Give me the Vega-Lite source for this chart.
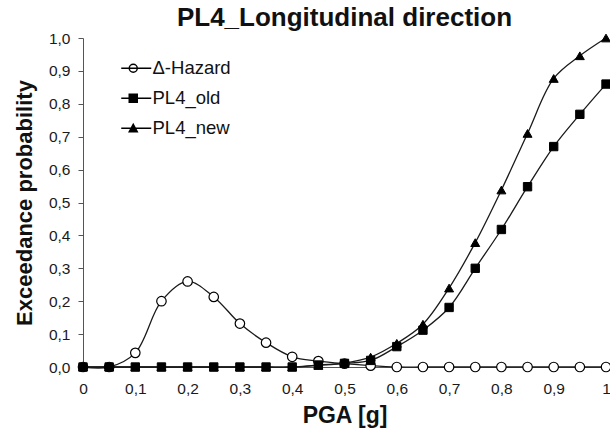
{
  "$schema": "https://vega.github.io/schema/vega-lite/v6.json",
  "width": 523,
  "height": 329,
  "autosize": {"type": "none"},
  "padding": {"left": 83, "top": 38, "right": 4, "bottom": 64},
  "background": "white",
  "title": {
    "text": "PL4_Longitudinal direction",
    "font": "Liberation Sans",
    "fontSize": 26,
    "fontWeight": "bold",
    "color": "#111111",
    "frame": "group",
    "anchor": "middle",
    "baseline": "alphabetic",
    "offset": 4,
    "dy": 25
  },
  "data": {
    "values": [
      {"series": "Δ-Hazard", "x": 0.0, "y": 0.0},
      {"series": "Δ-Hazard", "x": 0.05, "y": 0.0},
      {"series": "Δ-Hazard", "x": 0.1, "y": 0.043},
      {"series": "Δ-Hazard", "x": 0.15, "y": 0.2},
      {"series": "Δ-Hazard", "x": 0.2, "y": 0.26},
      {"series": "Δ-Hazard", "x": 0.25, "y": 0.213},
      {"series": "Δ-Hazard", "x": 0.3, "y": 0.132},
      {"series": "Δ-Hazard", "x": 0.35, "y": 0.074},
      {"series": "Δ-Hazard", "x": 0.4, "y": 0.031},
      {"series": "Δ-Hazard", "x": 0.45, "y": 0.018},
      {"series": "Δ-Hazard", "x": 0.5, "y": 0.01},
      {"series": "Δ-Hazard", "x": 0.55, "y": 0.004},
      {"series": "Δ-Hazard", "x": 0.6, "y": 0.0},
      {"series": "Δ-Hazard", "x": 0.65, "y": 0.0},
      {"series": "Δ-Hazard", "x": 0.7, "y": 0.0},
      {"series": "Δ-Hazard", "x": 0.75, "y": 0.0},
      {"series": "Δ-Hazard", "x": 0.8, "y": 0.0},
      {"series": "Δ-Hazard", "x": 0.85, "y": 0.0},
      {"series": "Δ-Hazard", "x": 0.9, "y": 0.0},
      {"series": "Δ-Hazard", "x": 0.95, "y": 0.0},
      {"series": "Δ-Hazard", "x": 1.0, "y": 0.0},
      {"series": "PL4_old", "x": 0.0, "y": 0.0},
      {"series": "PL4_old", "x": 0.05, "y": 0.0},
      {"series": "PL4_old", "x": 0.1, "y": 0.0},
      {"series": "PL4_old", "x": 0.15, "y": 0.0},
      {"series": "PL4_old", "x": 0.2, "y": 0.0},
      {"series": "PL4_old", "x": 0.25, "y": 0.0},
      {"series": "PL4_old", "x": 0.3, "y": 0.0},
      {"series": "PL4_old", "x": 0.35, "y": 0.0},
      {"series": "PL4_old", "x": 0.4, "y": 0.0},
      {"series": "PL4_old", "x": 0.45, "y": 0.006},
      {"series": "PL4_old", "x": 0.5, "y": 0.011},
      {"series": "PL4_old", "x": 0.55, "y": 0.02},
      {"series": "PL4_old", "x": 0.6, "y": 0.062},
      {"series": "PL4_old", "x": 0.65, "y": 0.112},
      {"series": "PL4_old", "x": 0.7, "y": 0.181},
      {"series": "PL4_old", "x": 0.75, "y": 0.3},
      {"series": "PL4_old", "x": 0.8, "y": 0.418},
      {"series": "PL4_old", "x": 0.85, "y": 0.548},
      {"series": "PL4_old", "x": 0.9, "y": 0.67},
      {"series": "PL4_old", "x": 0.95, "y": 0.768},
      {"series": "PL4_old", "x": 1.0, "y": 0.86},
      {"series": "PL4_new", "x": 0.0, "y": 0.0},
      {"series": "PL4_new", "x": 0.05, "y": 0.0},
      {"series": "PL4_new", "x": 0.1, "y": 0.0},
      {"series": "PL4_new", "x": 0.15, "y": 0.0},
      {"series": "PL4_new", "x": 0.2, "y": 0.0},
      {"series": "PL4_new", "x": 0.25, "y": 0.0},
      {"series": "PL4_new", "x": 0.3, "y": 0.0},
      {"series": "PL4_new", "x": 0.35, "y": 0.0},
      {"series": "PL4_new", "x": 0.4, "y": 0.0},
      {"series": "PL4_new", "x": 0.45, "y": 0.005},
      {"series": "PL4_new", "x": 0.5, "y": 0.012},
      {"series": "PL4_new", "x": 0.55, "y": 0.03},
      {"series": "PL4_new", "x": 0.6, "y": 0.072},
      {"series": "PL4_new", "x": 0.65, "y": 0.13},
      {"series": "PL4_new", "x": 0.7, "y": 0.24},
      {"series": "PL4_new", "x": 0.75, "y": 0.378},
      {"series": "PL4_new", "x": 0.8, "y": 0.538},
      {"series": "PL4_new", "x": 0.85, "y": 0.71},
      {"series": "PL4_new", "x": 0.9, "y": 0.877},
      {"series": "PL4_new", "x": 0.95, "y": 0.946},
      {"series": "PL4_new", "x": 1.0, "y": 1.0}
    ]
  },
  "encoding": {
    "x": {
      "field": "x",
      "type": "quantitative",
      "scale": {"domain": [0, 1], "nice": false, "zero": false},
      "axis": {
        "title": "PGA [g]",
        "values": [0, 0.1, 0.2, 0.3, 0.4, 0.5, 0.6, 0.7, 0.8, 0.9, 1],
        "labelExpr": "datum.value == 0 ? '0' : datum.value == 1 ? '1' : replace(format(datum.value, '.1f'), '.', ',')",
        "grid": false,
        "ticks": false,
        "labelPadding": 14,
        "labelFont": "Liberation Sans",
        "labelFontSize": 15.5,
        "labelColor": "#1a1a1a",
        "labelFlush": false,
        "domainColor": "#555555",
        "titleFont": "Liberation Sans",
        "titleFontSize": 23,
        "titleFontWeight": "bold",
        "titleColor": "#111111",
        "titlePadding": 8
      }
    },
    "y": {
      "field": "y",
      "type": "quantitative",
      "scale": {"domain": [0, 1], "nice": false},
      "axis": {
        "title": "Exceedance probability",
        "values": [0, 0.1, 0.2, 0.3, 0.4, 0.5, 0.6, 0.7, 0.8, 0.9, 1],
        "labelExpr": "replace(format(datum.value, '.1f'), '.', ',')",
        "grid": false,
        "tickSize": 5,
        "tickColor": "#555555",
        "labelPadding": 8,
        "labelFont": "Liberation Sans",
        "labelFontSize": 15.5,
        "labelColor": "#1a1a1a",
        "labelFlush": false,
        "domainColor": "#555555",
        "titleFont": "Liberation Sans",
        "titleFontSize": 22,
        "titleFontWeight": "bold",
        "titleColor": "#111111",
        "titlePadding": 12
      }
    }
  },
  "layer": [
    {
      "mark": {"type": "line", "interpolate": "catmull-rom", "color": "#1a1a1a", "strokeWidth": 1.3},
      "encoding": {"detail": {"field": "series"}}
    },
    {
      "transform": [{"filter": "datum.series === 'Δ-Hazard'"}],
      "mark": {"type": "point", "shape": "circle", "fill": "white", "stroke": "black", "strokeWidth": 1.2, "opacity": 1, "size": 90}
    },
    {
      "transform": [{"filter": "datum.series === 'PL4_old'"}],
      "mark": {"type": "point", "shape": "square", "fill": "black", "stroke": "black", "strokeWidth": 1, "opacity": 1, "size": 70}
    },
    {
      "transform": [{"filter": "datum.series === 'PL4_new'"}],
      "mark": {"type": "point", "shape": "triangle-up", "fill": "black", "stroke": "black", "strokeWidth": 1, "opacity": 1, "size": 80}
    },
    {
      "transform": [{"filter": "datum.x > 5"}],
      "mark": {"type": "point", "stroke": "black", "strokeWidth": 1.2, "opacity": 1},
      "encoding": {
        "shape": {
          "field": "series",
          "type": "nominal",
          "scale": {
            "domain": ["Δ-Hazard", "PL4_old", "PL4_new"],
            "range": [
              "M-3,0H4.5M1,0A1,1,0,1,1,-1,0A1,1,0,1,1,1,0Z",
              "M-3,0H4.5M-1,-1H1V1H-1Z",
              "M-3,0H4.5M0,-1L1,0.9H-1Z"
            ]
          },
          "legend": {
            "title": null,
            "orient": "none",
            "legendX": 41,
            "legendY": 21,
            "padding": 0,
            "symbolSize": 64,
            "labelFont": "Liberation Sans",
            "labelFontSize": 18.5,
            "labelColor": "#111111",
            "labelOffset": 10,
            "rowPadding": 11,
            "encode": {
              "symbols": {
                "stroke": {"value": "black"},
                "strokeWidth": {"value": 1.2}
              }
            }
          }
        },
        "fill": {
          "field": "series",
          "type": "nominal",
          "scale": {"domain": ["Δ-Hazard", "PL4_old", "PL4_new"], "range": ["white", "black", "black"]},
          "legend": {
            "title": null,
            "orient": "none",
            "legendX": 41,
            "legendY": 21,
            "padding": 0,
            "symbolSize": 64,
            "labelFont": "Liberation Sans",
            "labelFontSize": 18.5,
            "labelColor": "#111111",
            "labelOffset": 10,
            "rowPadding": 11,
            "encode": {
              "symbols": {
                "stroke": {"value": "black"},
                "strokeWidth": {"value": 1.2}
              }
            }
          }
        }
      }
    }
  ],
  "config": {"view": {"stroke": null}}
}
